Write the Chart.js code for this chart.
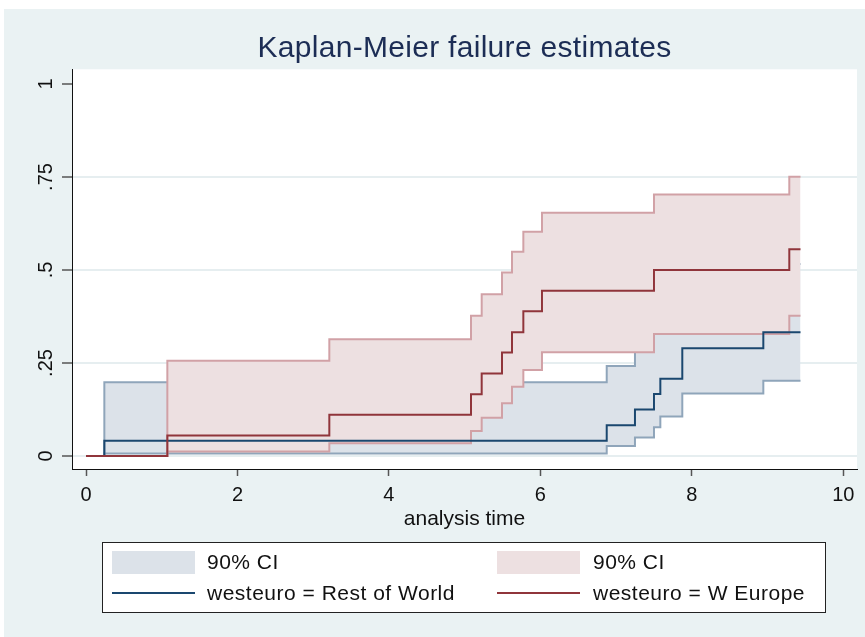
<!DOCTYPE html>
<html>
<head>
<meta charset="utf-8">
<script src="https://cdn.jsdelivr.net/npm/chart.js@4.4.0/dist/chart.umd.min.js"></script>
<style>
  html, body { margin: 0; padding: 0; background: #fff; }
  #wrap { position: relative; width: 865px; height: 637px; }
</style>
</head>
<body>
<div id="wrap"><canvas id="kmChart" width="865" height="637"></canvas></div>
<script>
// Kaplan-Meier failure estimates with 90% CI, by westeuro group

// Rest of World
const rowTimes = [0, 0.242, 6.876, 7.249, 7.50, 7.584, 7.874, 8.944, 9.435];
const rowKm    = [0, 0.041, 0.083, 0.125, 0.167, 0.208, 0.290, 0.333, 0.333];
const rowUpper = [0, 0.198, 0.242, 0.280, 0.340, 0.380, 0.460, 0.516, 0.516];
const rowLower = [0, 0.007, 0.027, 0.050, 0.077, 0.106, 0.168, 0.202, 0.202];

// W Europe
const weTimes = [0, 1.074, 3.213, 5.084, 5.225, 5.493, 5.625, 5.775, 6.021, 7.50, 9.287, 9.435];
const weKm    = [0, 0.055, 0.111, 0.166, 0.222, 0.278, 0.333, 0.389, 0.444, 0.500, 0.556, 0.556];
const weUpper = [0, 0.256, 0.314, 0.377, 0.435, 0.493, 0.549, 0.603, 0.654, 0.703, 0.751, 0.751];
const weLower = [0, 0.012, 0.034, 0.067, 0.103, 0.142, 0.186, 0.231, 0.279, 0.328, 0.377, 0.377];

const xTicks = [0, 2, 4, 6, 8, 10];
const yTicks = [0, 0.25, 0.5, 0.75, 1];
const yTickLabels = ['0', '.25', '.5', '.75', '1'];

const chartTitle = 'Kaplan-Meier failure estimates';

const FONT = 'Liberation Sans, Arial, Helvetica, sans-serif';
const BG = '#eaf2f3';
const blueLine = '#1a476f';
const redLine = '#90353b';
const blueFill = '#dce2e9';
const redFill = '#ede0e1';
const blueCI = '#8fa5ba';
const redCI = '#d1a1a6';

const toPoints = (times, vals) => times.map((t, i) => ({ x: t, y: vals[i] }));

// page background, plot region, title (centred on the plot) and the boxed legend
const stataLook = {
  id: 'stataLook',
  beforeDraw(chart) {
    const { ctx, chartArea: a } = chart;
    ctx.save();
    ctx.fillStyle = '#fff';
    ctx.fillRect(0, 0, chart.width, chart.height);
    ctx.fillStyle = BG;
    ctx.fillRect(4, 9, chart.width - 4, chart.height - 9);
    ctx.fillStyle = '#fff';
    ctx.fillRect(a.left, a.top, a.right - a.left, a.bottom - a.top);

    ctx.fillStyle = '#1c2d55';
    ctx.font = '30px ' + FONT;
    ctx.letterSpacing = '0.3px';
    ctx.textAlign = 'center';
    ctx.textBaseline = 'alphabetic';
    ctx.fillText(chartTitle, (a.left + a.right) / 2, 57);
    ctx.restore();
  },
  afterDraw(chart) {
    const ctx = chart.ctx;
    ctx.save();
    ctx.fillStyle = '#fff';
    ctx.fillRect(103, 543, 723, 70);
    ctx.strokeStyle = '#222';
    ctx.lineWidth = 1;
    ctx.strokeRect(102.5, 542.5, 723, 70);

    ctx.fillStyle = blueFill;
    ctx.fillRect(112, 551, 83, 23);
    ctx.fillStyle = redFill;
    ctx.fillRect(497, 551, 83, 23);

    ctx.lineWidth = 2;
    ctx.strokeStyle = blueLine;
    ctx.beginPath(); ctx.moveTo(112, 593); ctx.lineTo(195, 593); ctx.stroke();
    ctx.strokeStyle = redLine;
    ctx.beginPath(); ctx.moveTo(497, 593); ctx.lineTo(580, 593); ctx.stroke();

    ctx.fillStyle = '#111';
    ctx.font = '21px ' + FONT;
    ctx.letterSpacing = '0.5px';
    ctx.textBaseline = 'middle';
    ctx.fillText('90% CI', 207, 563);
    ctx.fillText('90% CI', 593, 563);
    ctx.fillText('westeuro = Rest of World', 207, 594);
    ctx.fillText('westeuro = W Europe', 593, 594);
    ctx.restore();
  }
};

const common = { pointRadius: 0, stepped: true, borderWidth: 2 };

new Chart(document.getElementById('kmChart'), {
  type: 'line',
  data: {
    datasets: [
      { ...common, label: '90% CI', data: toPoints(rowTimes, rowUpper), borderColor: blueCI, backgroundColor: blueFill, fill: '+1', order: 6 },
      { ...common, label: 'row lower', data: toPoints(rowTimes, rowLower), borderColor: blueCI, fill: false, order: 5 },
      { ...common, label: '90% CI', data: toPoints(weTimes, weUpper), borderColor: redCI, backgroundColor: redFill, fill: '+1', order: 4 },
      { ...common, label: 'we lower', data: toPoints(weTimes, weLower), borderColor: redCI, fill: false, order: 3 },
      { ...common, label: 'westeuro = Rest of World', data: toPoints(rowTimes, rowKm), borderColor: blueLine, fill: false, order: 2 },
      { ...common, label: 'westeuro = W Europe', data: toPoints(weTimes, weKm), borderColor: redLine, fill: false, order: 1 }
    ]
  },
  options: {
    responsive: false,
    animation: false,
    layout: { padding: { left: 4, right: 8, top: 69.3, bottom: 105.4 } },
    plugins: {
      legend: { display: false },
      tooltip: { enabled: false },
      title: { display: false }
    },
    scales: {
      x: {
        type: 'linear',
        min: -0.185,
        max: 10.181,
        afterBuildTicks: axis => { axis.ticks = xTicks.map(v => ({ value: v })); },
        afterFit: axis => { axis.height = 62.6; },
        ticks: {
          autoSkip: false, maxRotation: 0, padding: 7, color: '#111',
          font: { family: FONT, size: 20 },
          callback: v => String(v)
        },
        grid: { drawOnChartArea: false, drawTicks: true, tickLength: 7, tickColor: '#555', tickWidth: 1.5 },
        border: { display: true, color: '#111', width: 1 },
        title: {
          display: true, text: 'analysis time', color: '#111',
          font: { family: FONT, size: 21 }, padding: { top: 0, bottom: 0 }
        }
      },
      y: {
        type: 'linear',
        min: -0.0349,
        max: 1.0395,
        afterBuildTicks: axis => { axis.ticks = yTicks.map(v => ({ value: v })); },
        afterFit: axis => { axis.width = 68; },
        ticks: {
          autoSkip: false, minRotation: 90, maxRotation: 90, crossAlign: 'center',
          padding: 2, color: '#111',
          font: { family: FONT, size: 20 },
          callback: (v, i) => yTickLabels[i]
        },
        grid: {
          color: ctx => (ctx.tick && ctx.tick.value === 1 ? 'rgba(0,0,0,0)' : '#e6eef0'),
          lineWidth: 2,
          tickLength: 10, tickColor: '#555', tickWidth: 1.5
        },
        border: { display: true, color: '#111', width: 1 }
      }
    }
  },
  plugins: [stataLook]
});
</script>
</body>
</html>
